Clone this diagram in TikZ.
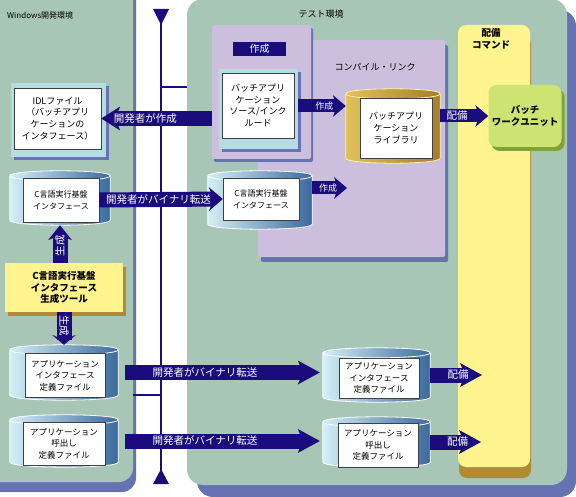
\documentclass[tikz,border=0pt]{standalone}
\usepackage{fontspec}
\setmainfont{Noto Sans CJK JP}
\usepackage{tikz}
\usetikzlibrary{arrows.meta}
\usetikzlibrary{shadows}
\definecolor{panelgreen}{HTML}{A7C6B6}
\definecolor{shadowblue}{HTML}{6673B3}
\definecolor{navy}{HTML}{1B0C7D}
\definecolor{lilac}{HTML}{CBBFDD}
\definecolor{paleblue}{HTML}{B3DDE3}
\definecolor{coly}{HTML}{FFF48E}
\definecolor{colgold}{HTML}{B08A36}
\definecolor{workgreen}{HTML}{CDE472}
\definecolor{workdark}{HTML}{7FA33A}
\definecolor{diskL}{HTML}{D4EFF6}
\definecolor{diskM}{HTML}{A2CDE2}
\definecolor{diskR}{HTML}{3C6A9E}
\definecolor{libL}{HTML}{E2C158}
\definecolor{libM}{HTML}{FFF2A8}
\definecolor{libR}{HTML}{A47E2C}
\tikzstyle{card}=[draw=black!75, fill=white, inner sep=0pt, align=center, font=\fontsize{9}{11.7}\selectfont]
\tikzstyle{smallcard}=[card, font=\fontsize{8.5}{11.5}\selectfont]
\tikzstyle{diskbox}=[inner sep=0pt]
\tikzstyle{bluedisk}=[left color=diskL, middle color=diskM, right color=diskR]
\tikzstyle{golddisk}=[left color=libL, middle color=libM, right color=libR]
\tikzstyle{frame}=[fill=lilac, inner sep=0pt, rounded corners=2pt]
\tikzstyle{bigarrow}[20pt]=[draw=navy, line width=15pt, -{Stealth[length=#1, width=24pt, inset=5pt, line width=0pt]}]
\tikzstyle{smallarrow}=[draw=navy, line width=13pt, -{Stealth[length=13pt, width=22pt, inset=4pt, line width=0pt]}]
\tikzstyle{arrowtext}=[text=white, inner sep=0pt, font=\fontsize{10.5}{12}\selectfont]
\tikzstyle{boldtext}=[align=center, inner sep=0pt, font=\fontsize{9.5}{11.5}\selectfont\bfseries]
% cylinder round a named box: #1 node, #2 shading, #3 rim
\newcommand{\drawdisk}[3]{%
  \shadedraw[#2, draw=#3, line width=0.8pt] ([yshift=-5pt]#1.north west) -- ([yshift=5pt]#1.south west)
    .. controls ([yshift=-1.67pt]#1.south west) and ([yshift=-1.67pt]#1.south east) .. ([yshift=5pt]#1.south east)
    -- ([yshift=-5pt]#1.north east)
    .. controls ([yshift=1.67pt]#1.north east) and ([yshift=1.67pt]#1.north west) .. cycle;
  \draw[#3, line width=0.8pt] ([yshift=-5pt]#1.north west)
    .. controls ([yshift=-11.67pt]#1.north west) and ([yshift=-11.67pt]#1.north east) .. ([yshift=-5pt]#1.north east);
}

\begin{document}
\begin{tikzpicture}[x=1pt, y=-1pt]
        \useasboundingbox (0,0) rectangle (576,497);
        % environments
        \fill[shadowblue, rounded corners=14pt] (-20,-20) rectangle (136,492);
        \fill[panelgreen, rounded corners=14pt] (-20,-20) rectangle (133,482);
        \fill[shadowblue, rounded corners=16pt] (197,10) rectangle (576,497);
        \fill[panelgreen, rounded corners=16pt] (187,-1) rectangle (567,485);
        \node[anchor=west, inner sep=0pt, font=\fontsize{8}{9}\selectfont] (winlabel) at (7,15) {Windows開発環境};
        \node[inner sep=0pt, font=\fontsize{9}{10}\selectfont] (testlabel) at (321,14) {テスト環境};
        % time line
        \draw[navy, line width=1.6pt] (161,12) -- (161,475);
        \fill[navy] (153,9) -- (169,9) -- (161,25) -- cycle;
        \fill[navy] (153,484) -- (169,484) -- (161,469) -- cycle;
        \draw[navy, line width=1.6pt] (161,87) -- (187,87);
        \draw[navy, line width=1.6pt] (133,395) -- (161,395);
        % frames
        \node[frame, minimum width=187pt, minimum height=217pt, drop shadow={shadow xshift=3pt, shadow yshift=-5pt, fill=shadowblue, opacity=1}] (link) at (351.5,148.5) {};
        \node[frame, minimum width=99pt, minimum height=134pt, drop shadow={shadow xshift=2pt, shadow yshift=-3pt, fill=shadowblue, opacity=1}] (mk) at (261.5,92) {};
        \node[fill=navy, text=white, minimum width=53pt, minimum height=14pt, inner sep=0pt, font=\fontsize{10}{11}\selectfont] (mktag) at (259.5,49) {作成};
        \node[inner sep=0pt, font=\fontsize{9}{10}\selectfont] (linklabel) at (375,67) {コンパイル・リンク};
        \node[fill=coly, rounded corners=8pt, minimum width=72pt, minimum height=442pt, drop shadow={shadow xshift=1pt, shadow yshift=-11pt, fill=colgold, opacity=1}] (deploy) at (494,246) {};
        \node[boldtext] (deploytitle) at (491,39) {配備\\コマンド};
        \node[boldtext, fill=workgreen, rounded corners=8pt, minimum width=73pt, minimum height=62pt, drop shadow={shadow xshift=3pt, shadow yshift=-4pt, fill=workdark, opacity=1}] (batch) at (525,116) {バッチ\\ワークユニット};
        % sources
        \node[fill=paleblue, minimum width=95pt, minimum height=74pt, drop shadow={shadow xshift=3pt, shadow yshift=-3pt, fill=shadowblue, opacity=1}] (idl) at (58.5,120) {};
        \node[card, minimum width=87pt, minimum height=61pt] (idlcard) at (57.5,118.5) {IDLファイル\\（バッチアプリ\\ケーションの\\インタフェース）};
        \node[fill=paleblue, minimum width=79pt, minimum height=80pt, drop shadow={shadow xshift=3pt, shadow yshift=-3pt, fill=shadowblue, opacity=1}] (src) at (258.5,109) {};
        \node[card, minimum width=72pt, minimum height=65pt] (srccard) at (258,105.5) {バッチアプリ\\ケーション\\ソース/インク\\ルード};
        \node[diskbox, minimum width=94pt, minimum height=74pt] (lib) at (393,126) {};
        \drawdisk{lib}{golddisk}{libM}
        \node[card, minimum width=72pt, minimum height=60pt] (libcard) at (396,128) {バッチアプリ\\ケーション\\ライブラリ};
        % interface files
        \node[diskbox, minimum width=100pt, minimum height=54pt] (cifL) at (60,198) {};
        \drawdisk{cifL}{bluedisk}{white}
        \node[card, minimum width=76pt, minimum height=44pt, font=\fontsize{8}{12}\selectfont] (cifLcard) at (61,200) {C言語実行基盤\\インタフェース};
        \node[diskbox, minimum width=104pt, minimum height=58pt] (cifR) at (260,200) {};
        \drawdisk{cifR}{bluedisk}{white}
        \node[card, minimum width=76pt, minimum height=42pt, font=\fontsize{8}{12}\selectfont] (cifRcard) at (261,199) {C言語実行基盤\\インタフェース};
        \node[boldtext, fill=coly, minimum width=118pt, minimum height=49pt, drop shadow={shadow xshift=3pt, shadow yshift=-4pt, fill=colgold, opacity=1}] (tool) at (64,287.5) {C言語実行基盤\\インタフェース\\生成ツール};
        \node[diskbox, minimum width=108pt, minimum height=55pt] (aifL) at (64,372.5) {};
        \drawdisk{aifL}{bluedisk}{white}
        \node[smallcard, minimum width=80pt, minimum height=44pt] (aifLcard) at (65,375.5) {アプリケーション\\インタフェース\\定義ファイル};
        \node[diskbox, minimum width=108pt, minimum height=52pt] (acallL) at (64,441) {};
        \drawdisk{acallL}{bluedisk}{white}
        \node[smallcard, minimum width=82pt, minimum height=43pt] (acallLcard) at (64,443.5) {アプリケーション\\呼出し\\定義ファイル};
        \node[diskbox, minimum width=107pt, minimum height=54pt] (aifR) at (376.5,375) {};
        \drawdisk{aifR}{bluedisk}{white}
        \node[smallcard, minimum width=80pt, minimum height=40pt] (aifRcard) at (379,378) {アプリケーション\\インタフェース\\定義ファイル};
        \node[diskbox, minimum width=107pt, minimum height=50pt] (acallR) at (376.5,442) {};
        \drawdisk{acallR}{bluedisk}{white}
        \node[smallcard, minimum width=80pt, minimum height=44pt] (acallRcard) at (378,445) {アプリケーション\\呼出し\\定義ファイル};
        \coordinate (mkend) at (347,188);
        \coordinate (drop1) at (482,374);
        \coordinate (drop2) at (481,442);
        % flows
        \draw[bigarrow=19pt] (mk.west |- idlcard.east) -- (idlcard.east) node[arrowtext, pos=0.6] {開発者が作成};
        \draw[smallarrow] ([yshift=3pt]src.east) -- ([yshift=3pt]src.east -| lib.west) node[arrowtext, pos=0.55, font=\fontsize{9}{10}\selectfont] {作成};
        \draw[bigarrow=14pt] (cifLcard.east) -- (cifRcard.west) node[arrowtext, pos=0.48] {開発者がバイナリ転送};
        \draw[smallarrow] (cifR.east |- mkend) -- (mkend) node[arrowtext, pos=0.46, font=\fontsize{9}{10}\selectfont] {作成};
        \draw[smallarrow] (lib.east |- batch.west) -- (batch.west) node[arrowtext, pos=0.35] {配備};
        \draw[bigarrow=15pt] (tool.north -| cifL.south) -- (cifL.south) node[arrowtext, pos=0.45, rotate=90] {生成};
        \draw[bigarrow=10pt] (tool.south -| aifL.north) -- (aifL.north) node[arrowtext, pos=0.42, rotate=-90] {生成};
        \draw[bigarrow=22pt] ([xshift=7pt]aifL.east) -- ([xshift=-3pt]aifL.east -| aifR.west) node[arrowtext, pos=0.41] {開発者がバイナリ転送};
        \draw[bigarrow=22pt] ([xshift=7pt]acallL.east) -- ([xshift=-3pt]acallL.east -| acallR.west) node[arrowtext, pos=0.41] {開発者がバイナリ転送};
        \draw[bigarrow=22pt] (aifR.east) -- (aifR.east -| drop1) node[arrowtext, pos=0.54] {配備};
        \draw[bigarrow=22pt] (acallR.east) -- (acallR.east -| drop2) node[arrowtext, pos=0.54] {配備};
    \end{tikzpicture}
\end{document}
